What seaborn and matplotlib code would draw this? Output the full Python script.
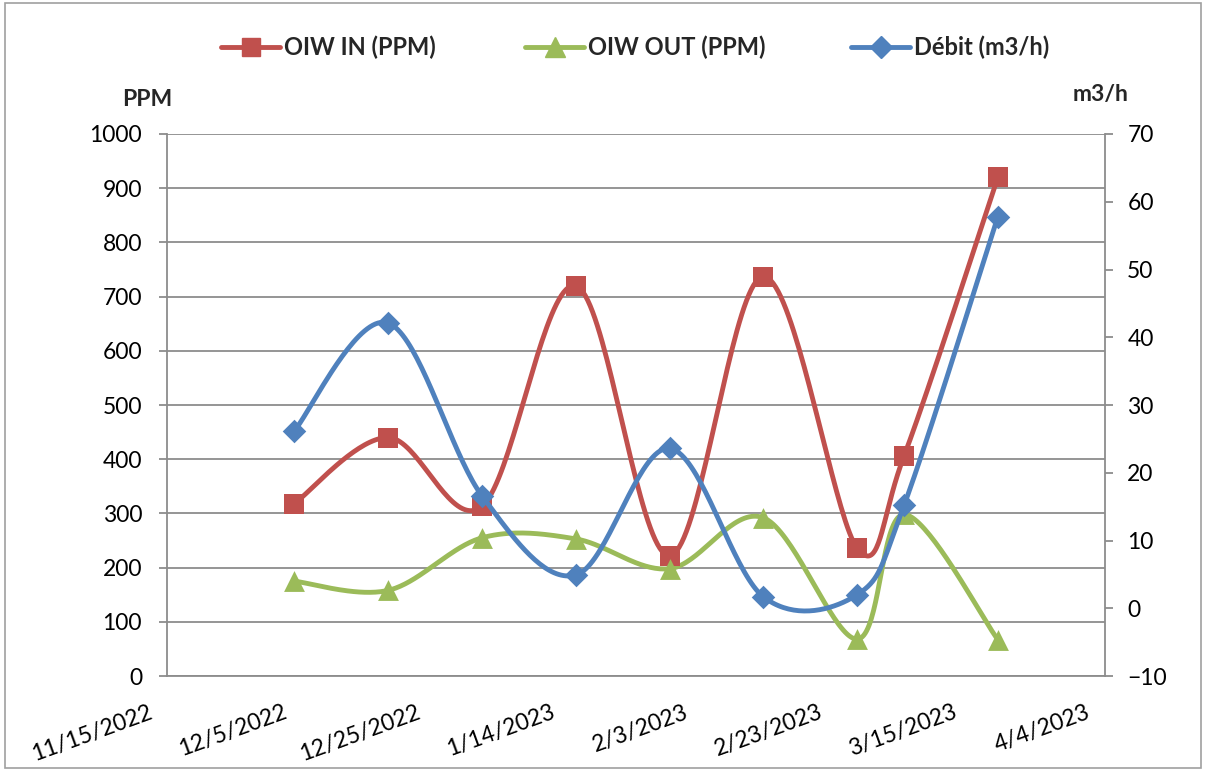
import numpy as np
import pandas as pd
import matplotlib
matplotlib.use("Agg")
from matplotlib import pyplot as plt
import matplotlib.dates as mdates
import matplotlib.transforms as mtransforms
from matplotlib.lines import Line2D
from matplotlib.patches import Rectangle
import seaborn as sns

# data
dates = ["2022-12-04", "2022-12-18", "2023-01-01", "2023-01-15", "2023-01-29",
         "2023-02-12", "2023-02-26", "2023-03-05", "2023-03-19"]
oiw_in = [318, 440, 313, 720, 222, 737, 236, 406, 920]
oiw_out = [175, 158, 255, 253, 198, 292, 68, 298, 67]
debit = [26.2, 42.1, 16.6, 4.9, 23.6, 1.7, 2.0, 15.2, 57.8]
series_names = ["OIW IN (PPM)", "OIW OUT (PPM)", "Débit (m3/h)"]

x_ticks = pd.date_range("2022-11-15", "2023-04-04", freq="20D")

RED = "#C0504D"
GREEN = "#9BBB59"
BLUE = "#4F81BD"
GRID = "#8C8C8C"


def smooth(xs, ys, n=40):
    # Excel-style smoothed line (Catmull-Rom through the points)
    xs = np.asarray(xs, float)
    ys = np.asarray(ys, float)
    px = np.concatenate([[xs[0]], xs, [xs[-1]]])
    py = np.concatenate([[ys[0]], ys, [ys[-1]]])
    out_x, out_y = [], []
    t = np.linspace(0, 1, n)
    for i in range(1, len(px) - 2):
        for p, out in ((px, out_x), (py, out_y)):
            p0, p1, p2, p3 = p[i - 1], p[i], p[i + 1], p[i + 2]
            c1 = p1 + (p2 - p0) / 6
            c2 = p2 - (p3 - p1) / 6
            b = ((1 - t) ** 3 * p1 + 3 * (1 - t) ** 2 * t * c1
                 + 3 * (1 - t) * t ** 2 * c2 + t ** 3 * p2)
            out.extend(b)
    return np.array(out_x), np.array(out_y)


xnum = mdates.date2num(pd.to_datetime(dates))

sns.set_style("white")
plt.rcParams["font.family"] = ["Lato", "DejaVu Sans"]
FS = 16.5

fig, ax = plt.subplots(figsize=(12.06, 7.71), dpi=100)
fig.subplots_adjust(left=0.1385, right=0.9163, top=0.8262, bottom=0.1232)
ax2 = ax.twinx()

styles = ((oiw_in, RED, "s", ax, 14),
          (oiw_out, GREEN, "^", ax, 15),
          (debit, BLUE, "D", ax2, 12))
for vals, color, marker, axis, ms in styles:
    sx, sy = smooth(xnum, vals)
    sns.lineplot(x=sx, y=sy, ax=axis, color=color, linewidth=3.5, sort=False,
                 estimator=None, zorder=3)
    sns.scatterplot(x=xnum, y=vals, ax=axis, color=color, marker=marker,
                    s=ms ** 2, edgecolor=color, linewidth=0, zorder=4)

ax.set_xlim(mdates.date2num(x_ticks[0]), mdates.date2num(x_ticks[-1]))
ax.set_ylim(0, 1000)
ax.set_yticks(np.arange(0, 1001, 100))
ax2.set_ylim(-10, 70)
ax2.set_yticks(np.arange(-10, 71, 10))
ax.set_xticks(mdates.date2num(x_ticks))
ax.set_xticklabels([f"{d.month}/{d.day}/{d.year}" for d in x_ticks],
                   rotation=20, ha="right", rotation_mode="anchor")

ax.yaxis.grid(True, color=GRID, linewidth=1.3)
ax.xaxis.grid(False)
ax.set_axisbelow(True)

for a in (ax, ax2):
    for s in a.spines.values():
        s.set_visible(False)
    a.tick_params(labelsize=FS, colors="black", length=0)
for side in ("left", "bottom"):
    ax.spines[side].set_visible(True)
    ax.spines[side].set_color(GRID)
    ax.spines[side].set_linewidth(1.3)
ax2.spines["right"].set_visible(True)
ax2.spines["right"].set_color(GRID)
ax2.spines["right"].set_linewidth(1.3)
ax.tick_params(axis="both", length=6, width=1.3, color=GRID, direction="out",
               labelcolor="black")
ax.tick_params(axis="y", pad=12)
ax.tick_params(axis="x", pad=8)
ax2.tick_params(axis="y", length=6, width=1.3, color=GRID, direction="out", pad=10,
                labelcolor="black")
ax.set_xlabel("")
ax.set_ylabel("")
ax2.set_ylabel("")

# move the date labels left/down like the original (after tick_params)
shift = mtransforms.ScaledTranslation(-0.19, -0.06, fig.dpi_scale_trans)
for lab in ax.get_xticklabels():
    lab.set_transform(lab.get_transform() + shift)

fig.text(147 / 1206, 1 - 100 / 771, "PPM", fontsize=FS, fontweight="bold",
         ha="center", va="center")
fig.text(1101 / 1206, 1 - 95 / 771, "m3/h", fontsize=FS, fontweight="bold",
         ha="center", va="center")

handles = [
    Line2D([], [], color=RED, marker="s", markersize=13, linewidth=3.5),
    Line2D([], [], color=GREEN, marker="^", markersize=14, linewidth=3.5),
    Line2D([], [], color=BLUE, marker="D", markersize=11, linewidth=3.5),
]
for h, name, x0 in zip(handles, series_names, (221, 525, 851)):
    fig.legend([h], [name], loc="center left",
               bbox_to_anchor=(x0 / 1206, 1 - 47 / 771), frameon=False,
               handlelength=2.5, handletextpad=0.15, borderpad=0, borderaxespad=0,
               prop={"size": FS + 0.5, "weight": "bold"})

fig.patches.append(Rectangle((0.004, 0.004), 0.992, 0.992, transform=fig.transFigure,
                             fill=False, edgecolor="#A0A0A0", linewidth=1.2))

fig.savefig("out.png", dpi=100)
